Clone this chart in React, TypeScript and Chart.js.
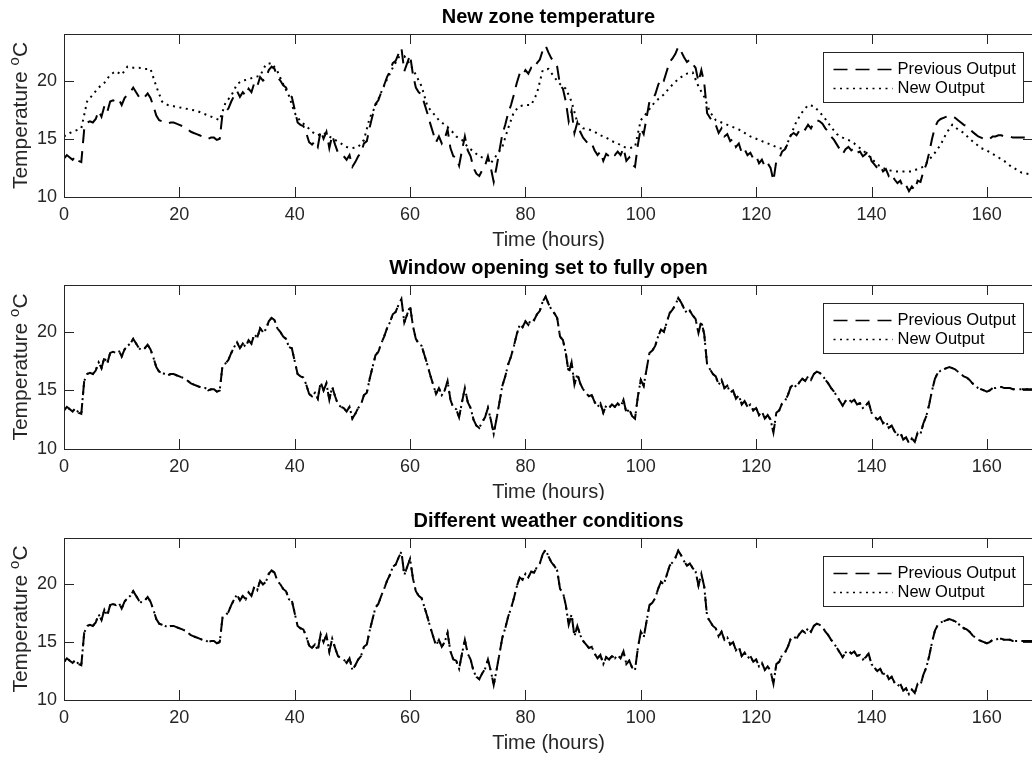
import React, { useEffect, useRef } from "react";
import { Chart, registerables } from "chart.js";

Chart.register(...registerables);

// ---------------- data ----------------
const X_MIN = 0;
const X_MAX = 168;
const Y_MIN = 10;
const Y_MAX = 24;
const xTicks = [0, 20, 40, 60, 80, 100, 120, 140, 160];
const yTicks = [10, 15, 20];

const panelTitles = [
  "New zone temperature",
  "Window opening set to fully open",
  "Different weather conditions",
];
const seriesNames = ["Previous Output", "New Output"];
const xLabel = "Time (hours)";
// y label: "Temperature " + superscript "o" + "C"
const yLabelParts = ["Temperature ", "o", "C"];

// hours between samples
const PREV_STEP = 0.5;
const NEW_STEP = 1;

// Previous output (zone temperature, degC), every 0.5 h from 0 to 168 h
const prevOutput = [
  13.3, 13.6, 13.4, 13.2, 13.5, 13.1, 13.0, 15.8, 16.4, 16.5, // 0
  16.4, 16.7, 17.4, 16.9, 17.8, 17.3, 18.2, 18.3, 18.2, 18.4, // 5
  17.9, 18.5, 18.8, 19.0, 19.4, 19.0, 18.6, 18.4, 18.6, 18.9, // 10
  18.5, 17.8, 17.0, 16.6, 16.5, 16.4, 16.3, 16.4, 16.4, 16.3, // 15
  16.2, 16.1, 16.0, 15.8, 15.6, 15.5, 15.4, 15.3, 15.2, 15.2, // 20
  15.0, 15.1, 15.1, 14.9, 15.0, 17.2, 17.3, 17.6, 18.2, 18.7, // 25
  19.1, 18.6, 19.0, 18.7, 19.3, 19.0, 19.8, 19.5, 20.3, 20.0, // 30
  20.2, 20.9, 21.2, 21.0, 20.3, 20.0, 19.6, 19.4, 18.7, 18.6, // 35
  17.5, 16.4, 16.2, 16.1, 15.5, 14.7, 14.5, 14.8, 14.3, 15.7, // 40
  15.0, 15.6, 14.2, 15.3, 14.5, 13.8, 13.6, 13.5, 13.2, 13.6, // 45
  12.6, 13.0, 13.5, 13.8, 14.6, 14.8, 16.0, 17.0, 18.0, 18.3, // 50
  19.0, 19.6, 20.3, 20.8, 21.5, 21.7, 22.3, 22.8, 20.8, 21.5, // 55
  22.2, 20.5, 19.4, 19.0, 18.8, 18.0, 17.2, 16.3, 15.5, 14.7, // 60
  15.2, 14.6, 15.0, 15.8, 14.2, 13.5, 13.4, 12.7, 14.0, 15.2, // 65
  14.0, 13.5, 12.5, 12.0, 11.8, 12.3, 12.7, 13.5, 12.5, 11.3, // 70
  12.6, 14.0, 15.4, 16.2, 17.2, 17.9, 18.8, 19.8, 20.6, 20.4, // 75
  20.9, 20.6, 21.1, 21.0, 21.5, 21.8, 22.6, 23.0, 22.4, 21.9, // 80
  21.6, 21.2, 19.6, 19.3, 18.2, 16.5, 17.4, 15.5, 16.4, 15.6, // 85
  15.1, 14.8, 14.5, 14.6, 14.0, 13.6, 13.9, 13.1, 13.7, 13.5, // 90
  13.8, 13.6, 13.9, 13.6, 14.2, 13.1, 13.4, 12.8, 12.6, 14.5, // 95
  15.9, 15.4, 16.8, 18.2, 18.4, 18.8, 19.6, 20.2, 20.0, 20.8, // 100
  21.6, 21.9, 22.3, 22.9, 22.5, 22.0, 21.6, 21.8, 21.4, 21.1, // 105
  19.9, 20.9, 19.8, 17.2, 16.8, 16.4, 16.2, 15.5, 15.9, 15.2, // 110
  15.4, 14.8, 15.0, 14.3, 14.6, 13.8, 14.1, 13.6, 13.8, 13.3, // 115
  13.5, 12.9, 13.2, 12.6, 12.9, 12.5, 11.4, 13.1, 13.3, 13.9, // 120
  14.1, 14.6, 15.3, 15.5, 15.3, 15.7, 16.0, 15.8, 16.2, 15.9, // 125
  16.4, 16.6, 16.5, 16.3, 15.9, 15.6, 15.2, 14.9, 14.5, 14.1, // 130
  13.7, 14.1, 14.3, 14.0, 14.2, 13.8, 13.9, 13.5, 13.7, 14.0, // 135
  13.1, 12.8, 12.5, 12.7, 12.2, 12.4, 11.8, 12.0, 11.5, 11.2, // 140
  11.4, 10.8, 11.0, 10.5, 10.9, 10.6, 11.4, 11.3, 12.2, 12.8, // 145
  13.8, 15.0, 16.0, 16.5, 16.7, 16.8, 16.9, 17.0, 16.9, 16.8, // 150
  16.6, 16.4, 16.2, 16.1, 15.9, 15.6, 15.4, 15.2, 15.1, 15.0, // 155
  14.9, 15.0, 15.2, 15.2, 15.3, 15.3, 15.2, 15.2, 15.2, 15.1, // 160
  15.1, 15.1, 15.1, 15.1, 15.1, 15.1, 15.1, // 165 - 168
];

// New output with the new zone temperature model, every 1 h from 0 to 168 h
const newOutputZone = [
  15.2, 15.5, 15.7, 15.9, 18.2, 18.8, 19.4, 19.8, 20.5, 20.8, // 0
  20.5, 21.2, 21.1, 21.1, 21.0, 21.0, 19.5, 18.2, 17.9, 17.8, // 10
  17.7, 17.6, 17.5, 17.4, 17.2, 17.0, 16.8, 16.6, 18.1, 18.7, // 20
  19.7, 20.0, 20.1, 20.3, 20.4, 21.4, 21.5, 20.8, 19.7, 18.7, // 30
  17.2, 16.5, 16.1, 15.6, 15.3, 15.5, 15.2, 14.9, 14.6, 14.3, // 40
  14.2, 14.3, 14.9, 16.8, 17.8, 19.0, 20.1, 21.1, 22.0, 22.1, // 50
  21.4, 20.5, 19.5, 17.8, 17.2, 16.6, 16.2, 15.8, 15.2, 14.9, // 60
  14.3, 13.9, 13.5, 13.3, 12.9, 13.6, 14.3, 15.9, 17.3, 17.8, // 70
  17.9, 17.9, 18.9, 20.9, 21.0, 20.3, 19.7, 19.3, 18.2, 16.4, // 80
  15.9, 15.8, 15.6, 15.3, 15.1, 14.8, 14.6, 14.3, 14.2, 14.3, // 90
  16.6, 17.2, 17.9, 18.4, 18.8, 19.4, 19.9, 20.3, 20.6, 20.7, // 100
  19.5, 18.6, 17.3, 16.6, 16.4, 16.2, 16.0, 15.8, 15.5, 15.2, // 110
  15.0, 14.8, 14.6, 14.4, 14.2, 14.1, 15.3, 16.5, 17.3, 17.9, // 120
  17.8, 17.3, 16.7, 16.0, 15.4, 15.1, 14.9, 14.6, 14.2, 13.8, // 130
  13.3, 12.8, 12.5, 12.3, 12.2, 12.2, 12.2, 12.2, 12.4, 12.6, // 140
  13.2, 13.8, 14.5, 15.5, 16.2, 15.8, 15.5, 15.0, 14.6, 14.2, // 150
  14.0, 13.7, 13.4, 13.1, 12.7, 12.4, 12.1, 12.0, 11.9, // 160 - 168
];

// In the window-opening and weather cases the new output coincides with the previous one
const newOutputWindow = prevOutput;
const newOutputWeather = prevOutput;

// ---------------- styling ----------------
const FONT = "'Liberation Sans', Arial, Helvetica, 'DejaVu Sans', sans-serif";
const AXIS_COLOR = "#262626";

type PanelDef = {
  top: number;
  height: number;
  chartTop: number;
  chartBottom: number;
  title: string;
  prev: number[];
  next: number[];
  nextStep: number;
};

const toPoints = (arr: number[], step: number) =>
  arr.map((v, i) => ({ x: i * step, y: v }));

function Panel({ def }: { def: PanelDef }) {
  const ref = useRef<HTMLCanvasElement | null>(null);

  useEffect(() => {
    if (!ref.current) return;
    const decor = {
      id: "matlabDecor",
      afterDraw(chart: any) {
        const { ctx, chartArea } = chart;
        const { left, right, top, bottom } = chartArea;
        const xs = chart.scales.x;
        const ys = chart.scales.y;
        ctx.save();
        // axes box
        ctx.strokeStyle = AXIS_COLOR;
        ctx.lineWidth = 1;
        ctx.setLineDash([]);
        ctx.strokeRect(
          Math.round(left) + 0.5,
          Math.round(top) + 0.5,
          Math.round(right - left),
          Math.round(bottom - top)
        );
        // inward ticks
        const TL = 10;
        ctx.beginPath();
        xTicks.forEach((v) => {
          const px = Math.round(xs.getPixelForValue(v)) + 0.5;
          ctx.moveTo(px, bottom);
          ctx.lineTo(px, bottom - TL);
          ctx.moveTo(px, top);
          ctx.lineTo(px, top + TL);
        });
        yTicks.forEach((v) => {
          const py = Math.round(ys.getPixelForValue(v)) + 0.5;
          ctx.moveTo(left, py);
          ctx.lineTo(left + TL, py);
          ctx.moveTo(right, py);
          ctx.lineTo(right - TL, py);
        });
        ctx.stroke();

        // title
        const cx = (left + right) / 2;
        ctx.fillStyle = "#000";
        ctx.font = `bold 20px ${FONT}`;
        ctx.textAlign = "center";
        ctx.textBaseline = "alphabetic";
        ctx.fillText(def.title, cx, top - 11);

        // x label
        ctx.fillStyle = AXIS_COLOR;
        ctx.font = `20px ${FONT}`;
        ctx.fillText(xLabel, cx, bottom + 49);

        // y label (rotated, with superscript o)
        const mainFont = `21px ${FONT}`;
        const supFont = `15px ${FONT}`;
        ctx.font = mainFont;
        const w0 = ctx.measureText(yLabelParts[0]).width;
        const w2 = ctx.measureText(yLabelParts[2]).width;
        ctx.font = supFont;
        const w1 = ctx.measureText(yLabelParts[1]).width;
        const total = w0 + w1 + w2;
        ctx.save();
        ctx.translate(27, (top + bottom) / 2);
        ctx.rotate(-Math.PI / 2);
        ctx.textAlign = "left";
        ctx.textBaseline = "alphabetic";
        let xx = -total / 2;
        ctx.font = mainFont;
        ctx.fillText(yLabelParts[0], xx, 0);
        xx += w0;
        ctx.font = supFont;
        ctx.fillText(yLabelParts[1], xx, -8);
        xx += w1;
        ctx.font = mainFont;
        ctx.fillText(yLabelParts[2], xx, 0);
        ctx.restore();

        // legend
        const bw = 200;
        const bh = 50;
        const bx = Math.round(right - 10 - bw) + 0.5;
        const by = Math.round(top + 18) + 0.5;
        ctx.fillStyle = "#fff";
        ctx.fillRect(bx, by, bw, bh);
        ctx.strokeStyle = AXIS_COLOR;
        ctx.lineWidth = 1;
        ctx.strokeRect(bx, by, bw, bh);
        const rows = [by + 17, by + 36];
        const dashes = [[14, 8], [2, 4.5]];
        rows.forEach((ry, i) => {
          ctx.strokeStyle = "#000";
          ctx.lineWidth = 1.5;
          ctx.setLineDash(dashes[i]);
          ctx.beginPath();
          ctx.moveTo(bx + 10, ry);
          ctx.lineTo(bx + 69, ry);
          ctx.stroke();
          ctx.setLineDash([]);
          ctx.fillStyle = "#000";
          ctx.font = `16.5px ${FONT}`;
          ctx.textAlign = "left";
          ctx.textBaseline = "middle";
          ctx.fillText(seriesNames[i], bx + 74, ry);
        });
        ctx.restore();
      },
    };

    const chart = new Chart(ref.current, {
      type: "line",
      data: {
        datasets: [
          {
            label: seriesNames[0],
            data: toPoints(def.prev, PREV_STEP),
            borderColor: "#000",
            borderWidth: 2,
            borderDash: [14, 8],
            pointRadius: 0,
            tension: 0,
            fill: false,
          },
          {
            label: seriesNames[1],
            data: toPoints(def.next, def.nextStep),
            borderColor: "#000",
            borderWidth: 2,
            borderDash: [2, 4.5],
            pointRadius: 0,
            tension: 0,
            fill: false,
          },
        ],
      },
      options: {
        responsive: false,
        animation: false,
        devicePixelRatio: 1,
        layout: { padding: { top: def.chartTop, right: 7, left: 0, bottom: 0 } },
        plugins: {
          legend: { display: false },
          title: { display: false },
          tooltip: { enabled: false },
        },
        scales: {
          x: {
            type: "linear",
            min: X_MIN,
            max: X_MAX,
            afterBuildTicks: (s: any) => {
              s.ticks = xTicks.map((v) => ({ value: v }));
            },
            afterFit: (s: any) => {
              s.height = def.height - def.chartBottom;
            },
            grid: { display: false, drawTicks: false },
            border: { display: false },
            ticks: {
              autoSkip: false,
              maxRotation: 0,
              padding: 7,
              color: AXIS_COLOR,
              font: { family: FONT, size: 18 },
            },
          },
          y: {
            type: "linear",
            min: Y_MIN,
            max: Y_MAX,
            afterBuildTicks: (s: any) => {
              s.ticks = yTicks.map((v) => ({ value: v }));
            },
            afterFit: (s: any) => {
              s.width = 64;
            },
            grid: { display: false, drawTicks: false },
            border: { display: false },
            ticks: {
              padding: 7,
              color: AXIS_COLOR,
              font: { family: FONT, size: 18 },
            },
          },
        },
      },
      plugins: [decor],
    } as any);
    return () => chart.destroy();
  }, [def]);

  return (
    <canvas
      ref={ref}
      width={1040}
      height={def.height}
      style={{ position: "absolute", left: 0, top: def.top, width: 1040, height: def.height }}
    />
  );
}

const panels: PanelDef[] = [
  { top: 0, height: 250, chartTop: 34, chartBottom: 197, title: panelTitles[0], prev: prevOutput, next: newOutputZone, nextStep: NEW_STEP },
  { top: 250, height: 250, chartTop: 35, chartBottom: 199, title: panelTitles[1], prev: prevOutput, next: newOutputWindow, nextStep: PREV_STEP },
  { top: 500, height: 260, chartTop: 38, chartBottom: 200, title: panelTitles[2], prev: prevOutput, next: newOutputWeather, nextStep: PREV_STEP },
];

export default function App() {
  return (
    <div
      style={{
        position: "absolute",
        left: 0,
        top: 0,
        width: 1032,
        height: 760,
        overflow: "hidden",
        background: "#fff",
      }}
    >
      {panels.map((p, i) => (
        <Panel key={i} def={p} />
      ))}
    </div>
  );
}
